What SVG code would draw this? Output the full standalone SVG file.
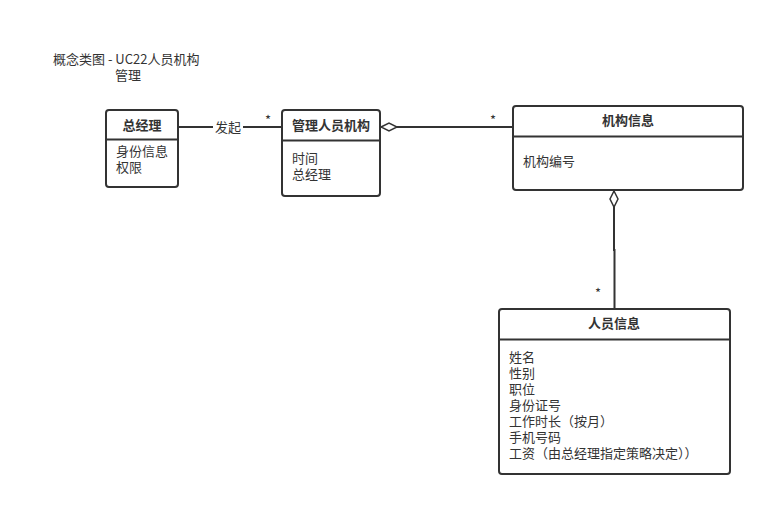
<svg xmlns="http://www.w3.org/2000/svg" width="775" height="507" viewBox="0 0 775 507">
<style>
text{font-family:"Noto Sans CJK SC","Liberation Sans",sans-serif;font-size:13px;fill:#333}
.t{font-weight:bold;text-anchor:middle}
.box{fill:#fff;stroke:#333;stroke-width:2}
.ln{stroke:#333;stroke-width:2;fill:none}
</style>
<defs>
<marker id="dia" markerWidth="20" markerHeight="12" refX="1" refY="6" orient="auto" markerUnits="userSpaceOnUse">
<path d="M1,6 L9,2 L17,6 L9,10 Z" fill="#fff" stroke="#333" stroke-width="1.5"/>
</marker>
</defs>
<rect width="775" height="507" fill="#fff"/>
<text x="53" y="64">概念类图 - UC22人员机构<tspan x="115" dy="16">管理</tspan></text>
<g id="connectors">
<g id="c1"><line class="ln" x1="178" y1="127" x2="282" y2="127"/><rect x="213" y="119" width="30" height="16" fill="#fff"/><text x="228" y="132" text-anchor="middle">发起</text><text x="268" y="125" text-anchor="middle">*</text></g>
<g id="c2"><line class="ln" x1="381" y1="127" x2="513" y2="127" marker-start="url(#dia)"/><text x="493" y="125" text-anchor="middle">*</text></g>
<g id="c3"><polyline class="ln" points="614,191 614,250 614.5,250 614.5,309" marker-start="url(#dia)"/><text x="598" y="298" text-anchor="middle">*</text></g>
</g>
<g id="n1">
<rect class="box" x="106" y="110" width="72" height="77" rx="3"/>
<line class="ln" x1="106" y1="139.5" x2="178" y2="139.5"/>
<text class="t" x="142" y="130">总经理</text>
<text x="116" y="156">身份信息<tspan x="116" dy="16">权限</tspan></text>
</g>
<g id="n2">
<rect class="box" x="282" y="110" width="98" height="86" rx="3"/>
<line class="ln" x1="282" y1="140.5" x2="380" y2="140.5"/>
<text class="t" x="331" y="130">管理人员机构</text>
<text x="292" y="163">时间<tspan x="292" dy="16">总经理</tspan></text>
</g>
<g id="n3">
<rect class="box" x="513" y="106" width="230" height="84" rx="3"/>
<line class="ln" x1="513" y1="136.5" x2="743" y2="136.5"/>
<text class="t" x="628" y="125">机构信息</text>
<text x="523" y="166">机构编号</text>
</g>
<g id="n4">
<rect class="box" x="499" y="309" width="231" height="165" rx="3"/>
<line class="ln" x1="499" y1="339.5" x2="730" y2="339.5"/>
<text class="t" x="614" y="328">人员信息</text>
<text x="509" y="362">姓名<tspan x="509" dy="16">性别</tspan><tspan x="509" dy="16">职位</tspan><tspan x="509" dy="16">身份证号</tspan><tspan x="509" dy="16">工作时长（按月）</tspan><tspan x="509" dy="16">手机号码</tspan><tspan x="509" dy="16">工资（由总经理指定策略决定））</tspan></text>
</g>
</svg>
